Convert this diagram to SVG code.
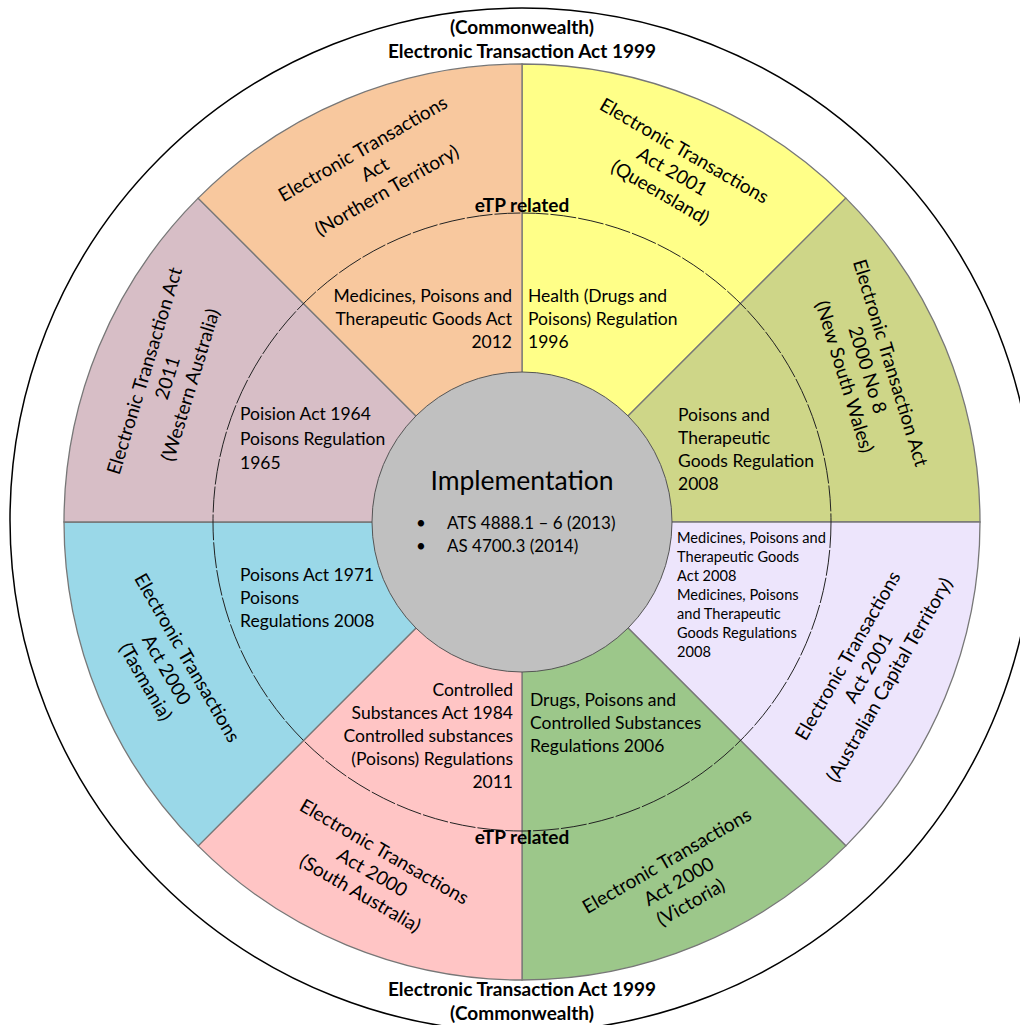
<svg xmlns="http://www.w3.org/2000/svg" width="1020" height="1025" viewBox="0 0 1020 1025">
<style>
.t{font-family:Lato,"Liberation Sans",sans-serif;font-size:17.5px;fill:#000}
.o{font-family:Lato,"Liberation Sans",sans-serif;font-size:19px;fill:#000;text-anchor:middle}
.s{font-family:Lato,"Liberation Sans",sans-serif;font-size:14.6px;fill:#000}
.b{font-family:Lato,"Liberation Sans",sans-serif;font-size:19px;font-weight:bold;fill:#000;text-anchor:middle}
.w{stroke:#777;stroke-width:1.3}
.r{text-anchor:end}
</style>
<rect width="1020" height="1025" fill="#fff"/>
<g id="outer-ring">
<circle cx="522" cy="520" r="512" fill="none" stroke="#000" stroke-width="1.5"/>
<text class="b" x="522" y="34">(Commonwealth)</text>
<text class="b" x="522" y="58">Electronic Transaction Act 1999</text>
<text class="b" x="522" y="996">Electronic Transaction Act 1999</text>
<text class="b" x="522" y="1020">(Commonwealth)</text>
</g>
<g id="sector-qld">
<path class="w" d="M522,522 L522,64 A458,458 0 0 1 845.85,198.15 Z" fill="#FFFF88"/>
<g transform="translate(672,172) rotate(30)"><text class="o" y="-18">Electronic Transactions</text><text class="o" y="6">Act 2001</text><text class="o" y="30">(Queensland)</text></g>
</g>
<g id="sector-nsw">
<path class="w" d="M522,522 L845.85,198.15 A458,458 0 0 1 980,522 Z" fill="#CED688"/>
<g transform="translate(867,370) rotate(73)"><text class="o" y="-18">Electronic Transaction Act</text><text class="o" y="6">2000 No 8</text><text class="o" y="30">(New South Wales)</text></g>
</g>
<g id="sector-act">
<path class="w" d="M522,522 L980,522 A458,458 0 0 1 845.85,845.85 Z" fill="#EDE5FC"/>
<g transform="translate(869,668) rotate(-60)"><text class="o" y="-18">Electronic Transactions</text><text class="o" y="6">Act 2001</text><text class="o" y="30">(Australian Capital Territory)</text></g>
</g>
<g id="sector-vic">
<path class="w" d="M522,522 L845.85,845.85 A458,458 0 0 1 522,980 Z" fill="#9CC78A"/>
<g transform="translate(679,882) rotate(-30)"><text class="o" y="-18">Electronic Transactions</text><text class="o" y="6">Act 2000</text><text class="o" y="30">(Victoria)</text></g>
</g>
<g id="sector-sa">
<path class="w" d="M522,522 L522,980 A458,458 0 0 1 198.15,845.85 Z" fill="#FFC5C5"/>
<g transform="translate(372,873) rotate(30)"><text class="o" y="-18">Electronic Transactions</text><text class="o" y="6">Act 2000</text><text class="o" y="30">(South Australia)</text></g>
</g>
<g id="sector-tas">
<path class="w" d="M522,522 L198.15,845.85 A458,458 0 0 1 64,522 Z" fill="#9AD8E8"/>
<g transform="translate(166,670) rotate(60)"><text class="o" y="-18">Electronic Transactions</text><text class="o" y="6">Act 2000</text><text class="o" y="30">(Tasmania)</text></g>
</g>
<g id="sector-wa">
<path class="w" d="M522,522 L64,522 A458,458 0 0 1 198.15,198.15 Z" fill="#D7BEC6"/>
<g transform="translate(168,378) rotate(-73)"><text class="o" y="-18">Electronic Transaction Act</text><text class="o" y="6">2011</text><text class="o" y="30">(Western Australia)</text></g>
</g>
<g id="sector-nt">
<path class="w" d="M522,522 L198.15,198.15 A458,458 0 0 1 522,64 Z" fill="#F8C89E"/>
<g transform="translate(375,170) rotate(-30)"><text class="o" y="-18">Electronic Transactions</text><text class="o" y="6">Act</text><text class="o" y="30">(Northern Territory)</text></g>
</g>
<g id="etp-ring">
<circle cx="522" cy="522" r="309" fill="none" stroke="#222" stroke-width="1" stroke-dasharray="26 2"/>
<text class="b" x="522" y="212">eTP related</text>
<text class="b" x="522" y="844">eTP related</text>
</g>
<g id="reg-nt">
<text class="t r" x="512" y="302">Medicines, Poisons and</text>
<text class="t r" x="512" y="325">Therapeutic Goods Act</text>
<text class="t r" x="512" y="348">2012</text>
</g>
<g id="reg-qld">
<text class="t" x="528" y="302">Health (Drugs and</text>
<text class="t" x="528" y="325">Poisons) Regulation</text>
<text class="t" x="528" y="348">1996</text>
</g>
<g id="reg-nsw">
<text class="t" x="678" y="421">Poisons and</text>
<text class="t" x="678" y="444">Therapeutic</text>
<text class="t" x="678" y="467">Goods Regulation</text>
<text class="t" x="678" y="490">2008</text>
</g>
<g id="reg-act">
<text class="s" x="677" y="543">Medicines, Poisons and</text>
<text class="s" x="677" y="562">Therapeutic Goods</text>
<text class="s" x="677" y="581">Act 2008</text>
<text class="s" x="677" y="600">Medicines, Poisons</text>
<text class="s" x="677" y="619">and Therapeutic</text>
<text class="s" x="677" y="638">Goods Regulations</text>
<text class="s" x="677" y="657">2008</text>
</g>
<g id="reg-vic">
<text class="t" x="530" y="706">Drugs, Poisons and</text>
<text class="t" x="530" y="729">Controlled Substances</text>
<text class="t" x="530" y="752">Regulations 2006</text>
</g>
<g id="reg-sa">
<text class="t r" x="513" y="696">Controlled</text>
<text class="t r" x="513" y="719">Substances Act 1984</text>
<text class="t r" x="513" y="742">Controlled substances</text>
<text class="t r" x="513" y="765">(Poisons) Regulations</text>
<text class="t r" x="513" y="788">2011</text>
</g>
<g id="reg-tas">
<text class="t" x="240" y="581">Poisons Act 1971</text>
<text class="t" x="240" y="604">Poisons</text>
<text class="t" x="240" y="627">Regulations 2008</text>
</g>
<g id="reg-wa">
<text class="t" x="240" y="420">Poision Act 1964</text>
<text class="t" x="240" y="445">Poisons Regulation</text>
<text class="t" x="240" y="469">1965</text>
</g>
<g id="implementation">
<circle cx="522" cy="522" r="150" fill="#C0C0C0" stroke="#555" stroke-width="1"/>
<text x="522" y="490" text-anchor="middle" style="font-family:Lato,'Liberation Sans',sans-serif;font-size:26.5px">Implementation</text>
<text class="t" x="416" y="529" style="font-size:17px">•</text>
<text class="t" x="447" y="529" style="font-size:17px">ATS 4888.1 – 6 (2013)</text>
<text class="t" x="416" y="552" style="font-size:17px">•</text>
<text class="t" x="447" y="552" style="font-size:17px">AS 4700.3 (2014)</text>
</g>
<g id="connectors"></g>
</svg>
